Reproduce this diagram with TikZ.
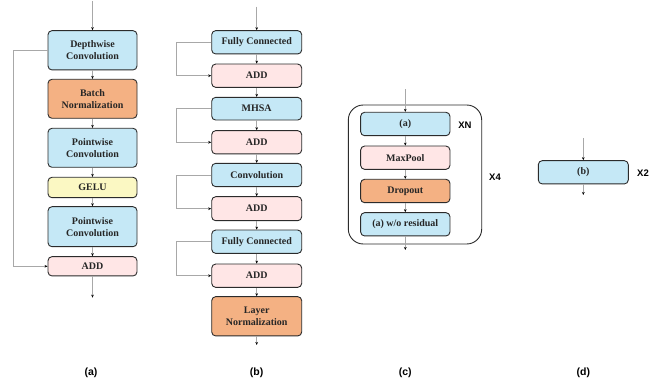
\documentclass[tikz,border=0pt]{standalone}
\usepackage{fontspec}
\setmainfont{Liberation Serif}
\setsansfont{Liberation Sans}
\usetikzlibrary{arrows.meta}

\definecolor{blk}{HTML}{C5E8F6}
\definecolor{org}{HTML}{F4B183}
\definecolor{ylw}{HTML}{FBF8C3}
\definecolor{pnk}{HTML}{FFE6E6}
\definecolor{edge}{HTML}{2B2B2B}
\definecolor{wire}{HTML}{A8A8A8}

\tikzset{
  box/.style={draw=edge, line width=0.9pt, rounded corners=4pt, align=center,
    font=\fontsize{10}{12}\selectfont\bfseries, inner sep=0pt, text=black!85},
  bluebox/.style={box, fill=blk},
  orangebox/.style={box, fill=org},
  yellowbox/.style={box, fill=ylw},
  pinkbox/.style={box, fill=pnk},
  flow/.style={draw=wire, line width=0.6pt, -{Stealth[length=3pt,width=2.6pt,black]}},
  skip/.style={draw=wire, line width=0.8pt, -{Stealth[length=3pt,width=2.6pt,black]}},
  rep/.style={font=\sffamily\bfseries\fontsize{9.5}{11}\selectfont},
  caption/.style={font=\sffamily\bfseries\fontsize{10.5}{12}\selectfont},
}

\begin{document}
\begin{tikzpicture}[x=1pt, y=-1pt]
\useasboundingbox (0,0) rectangle (670,382);

% ---------- (a) convolution block ----------
\node[bluebox,   minimum width=89pt, minimum height=39.3pt] (dw)  at (92.5,50.3)  {Depthwise\\Convolution};
\node[orangebox, minimum width=89pt, minimum height=39pt]   (bn)  at (92.5,98.8)  {Batch\\Normalization};
\node[bluebox,   minimum width=89pt, minimum height=39pt]   (pw1) at (92.5,147.8) {Pointwise\\Convolution};
\node[yellowbox, minimum width=89pt, minimum height=20.4pt] (gl)  at (92.5,187.5) {GELU};
\node[bluebox,   minimum width=89pt, minimum height=40pt]   (pw2) at (92.5,226.7) {Pointwise\\Convolution};
\node[pinkbox,   minimum width=89pt, minimum height=19.3pt] (ada) at (92.5,266.3) {ADD};
\coordinate (ina)  at (92.5,1);
\coordinate (outa) at (92.5,297.7);
\draw[flow] (ina) -- (dw);
\draw[flow] (dw) -- (bn);
\draw[flow] (bn) -- (pw1);
\draw[flow] (pw1) -- (gl);
\draw[flow] (gl) -- (pw2);
\draw[flow] (pw2) -- (ada);
\draw[flow] (ada) -- (outa);
\draw[skip] (dw.west) -- ++(-34.4,0) |- (ada.west);
\node[caption] (capa) at (91,373) {(a)};

% ---------- (b) transformer block ----------
\node[bluebox,   minimum width=90pt, minimum height=23.3pt] (fc1) at (256.7,42.3)  {Fully Connected};
\node[pinkbox,   minimum width=90pt, minimum height=23.3pt] (ab1) at (256.7,75.7)  {ADD};
\node[bluebox,   minimum width=90pt, minimum height=22.7pt] (mh)  at (256.7,108.7) {MHSA};
\node[pinkbox,   minimum width=90pt, minimum height=23.3pt] (ab2) at (256.7,142.3) {ADD};
\node[bluebox,   minimum width=90pt, minimum height=23.3pt] (cv)  at (256.7,175)   {Convolution};
\node[pinkbox,   minimum width=90pt, minimum height=24pt]   (ab3) at (256.7,208.7) {ADD};
\node[bluebox,   minimum width=90pt, minimum height=23.3pt] (fc2) at (256.7,241.7) {Fully Connected};
\node[pinkbox,   minimum width=90pt, minimum height=23.3pt] (ab4) at (256.7,275.7) {ADD};
\node[orangebox, minimum width=90pt, minimum height=39.3pt] (ln)  at (256.7,316.3) {Layer\\Normalization};
\coordinate (inb)  at (256.7,6.7);
\coordinate (outb) at (256.7,345);
\draw[flow] (inb) -- (fc1);
\draw[flow] (fc1) -- (ab1);
\draw[flow] (ab1) -- (mh);
\draw[flow] (mh) -- (ab2);
\draw[flow] (ab2) -- (cv);
\draw[flow] (cv) -- (ab3);
\draw[flow] (ab3) -- (fc2);
\draw[flow] (fc2) -- (ab4);
\draw[flow] (ab4) -- (ln);
\draw[flow] (ln) -- (outb);
\foreach \s/\t in {fc1/ab1, mh/ab2, cv/ab3, fc2/ab4}
  \draw[skip] (\s.west) -- ++(-34.4,0) |- (\t.west);
\node[caption] (capb) at (256.7,373) {(b)};

% ---------- (c) stage ----------
\node[draw=edge, line width=0.9pt, rounded corners=15pt, minimum width=133.4pt,
      minimum height=139pt, inner sep=0pt] (stage) at (415,174.5) {};
\node[bluebox,   minimum width=89.3pt, minimum height=23.4pt] (ca)  at (405.3,124)   {(a)};
\node[pinkbox,   minimum width=89.3pt, minimum height=23.3pt] (mp)  at (405.3,157.7) {MaxPool};
\node[orangebox, minimum width=89.3pt, minimum height=23.4pt] (dp)  at (405.3,191)   {Dropout};
\node[bluebox,   minimum width=89.3pt, minimum height=23.3pt] (awo) at (405.3,224.3) {(a) w/o residual};
\coordinate (inc)  at (405.3,89.3);
\coordinate (outc) at (405.3,250);
\draw[flow] (inc) -- (ca);
\draw[flow] (ca) -- (mp);
\draw[flow] (mp) -- (dp);
\draw[flow] (dp) -- (awo);
\draw[flow] (awo) -- (outc);
\node[rep] (xn) at (465,125) {XN};
\node[rep] (x4) at (495,177) {X4};
\node[caption] (capc) at (405.3,373) {(c)};

% ---------- (d) repeated transformer ----------
\node[bluebox, minimum width=90pt, minimum height=23.3pt] (db) at (583.3,172.3) {(b)};
\coordinate (ind)  at (583.3,138);
\coordinate (outd) at (583.3,195);
\draw[flow] (ind) -- (db);
\draw[flow] (db) -- (outd);
\node[rep] (x2) at (643,173.3) {X2};
\node[caption] (capd) at (583.3,373) {(d)};
\end{tikzpicture}
\end{document}
